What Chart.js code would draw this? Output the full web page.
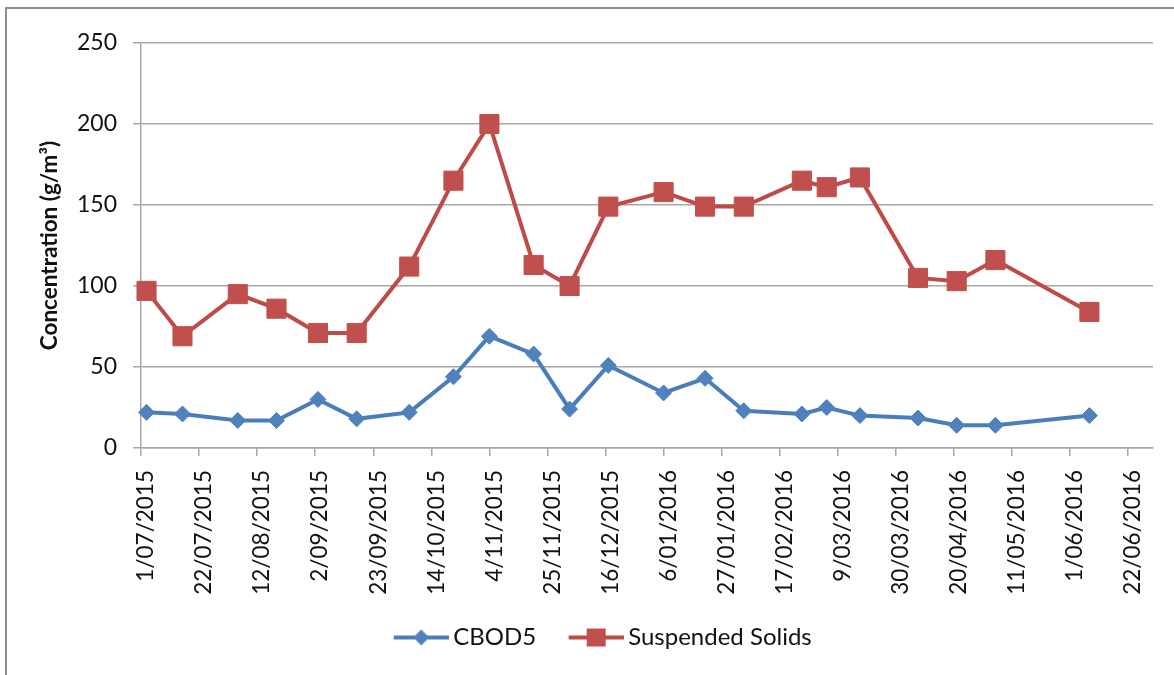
<!DOCTYPE html>
<html>
<head>
<meta charset="utf-8">
<title>CBOD5 and Suspended Solids</title>
<style>
  html, body { margin: 0; padding: 0; background: #fff; }
  #wrap { position: relative; width: 1174px; height: 675px; overflow: hidden; }
  #frame { position: absolute; left: 5px; top: 7px; width: 1200px; height: 700px;
           border-left: 2px solid #8e8e8e; border-top: 2px solid #8e8e8e; }
  #chart { position: absolute; left: 0; top: 0; }
</style>
</head>
<body>
<div id="wrap">
  <div id="frame"></div>
  <canvas id="chart" width="1174" height="675"></canvas>
</div>
<script src="https://cdn.jsdelivr.net/npm/chart.js@4.4.1/dist/chart.umd.min.js"></script>
<script>
const sampleDates = ['3/07/2015', '16/07/2015', '5/08/2015', '19/08/2015', '3/09/2015', '17/09/2015',
  '6/10/2015', '22/10/2015', '4/11/2015', '20/11/2015', '3/12/2015', '17/12/2015',
  '6/01/2016', '21/01/2016', '4/02/2016', '25/02/2016', '5/03/2016', '17/03/2016',
  '7/04/2016', '21/04/2016', '5/05/2016', '8/06/2016'];
const cbod5 = [22, 21, 17, 17, 30, 18, 22, 44, 69, 58, 24, 51, 34, 43, 23, 21, 25, 20, 18.5, 14, 14, 20];
const suspendedSolids = [97, 69, 95, 86, 71, 71, 112, 165, 200, 113, 100, 149, 158, 149, 149, 165, 161, 167, 105, 103, 116, 84];
const tickLabels = ['1/07/2015', '22/07/2015', '12/08/2015', '2/09/2015', '23/09/2015', '14/10/2015',
  '4/11/2015', '25/11/2015', '16/12/2015', '6/01/2016', '27/01/2016', '17/02/2016',
  '9/03/2016', '30/03/2016', '20/04/2016', '11/05/2016', '1/06/2016', '22/06/2016'];
const seriesNames = ['CBOD5', 'Suspended Solids'];

const blueLine = '#4a7ebb', blueMark = '#4f81bd';
const redLine = '#be4b48', redMark = '#c0504d';
const gridColor = '#a8a8a8';

// days since 1/07/2015
function toDay(s) {
  const [d, m, y] = s.split('/').map(Number);
  return Math.round((Date.UTC(y, m - 1, d) - Date.UTC(2015, 6, 1)) / 86400000);
}
const tickDays = tickLabels.map(toDay);

function points(values) {
  return values.map((v, i) => ({ x: toDay(sampleDates[i]), y: v }));
}

// legend icon: line with the marker in the middle (left part left blank for spacing)
function legendIcon(color, markColor, shape) {
  const c = document.createElement('canvas');
  c.width = 85; c.height = 24;
  const g = c.getContext('2d');
  g.strokeStyle = color; g.lineWidth = 4;
  g.beginPath(); g.moveTo(30, 12); g.lineTo(85, 12); g.stroke();
  g.fillStyle = markColor;
  const cx = 57.5, cy = 12;
  if (shape === 'diamond') {
    g.beginPath();
    g.moveTo(cx, cy - 8); g.lineTo(cx + 8, cy); g.lineTo(cx, cy + 8); g.lineTo(cx - 8, cy);
    g.closePath(); g.fill();
  } else {
    g.fillRect(cx - 9.5, cy - 9, 19, 18);
  }
  return c;
}
const legendIcons = [legendIcon(blueLine, blueMark, 'diamond'), legendIcon(redLine, redMark, 'square')];

new Chart('chart', {
  type: 'line',
  data: {
    datasets: [
      {
        label: seriesNames[0],
        data: points(cbod5),
        borderColor: blueLine,
        borderWidth: 4,
        pointStyle: 'rectRot',
        pointRadius: 8,
        pointBackgroundColor: blueMark,
        pointBorderColor: blueMark,
        pointBorderWidth: 1,
        clip: false
      },
      {
        label: seriesNames[1],
        data: points(suspendedSolids),
        borderColor: redLine,
        borderWidth: 4,
        pointStyle: 'rect',
        pointRadius: 13.5,
        pointBackgroundColor: redMark,
        pointBorderColor: redMark,
        pointBorderWidth: 1,
        clip: false
      }
    ]
  },
  options: {
    responsive: false,
    animation: false,
    layout: { padding: { left: 30, right: 21, top: 43, bottom: 15.5 } },
    plugins: {
      tooltip: { enabled: false },
      legend: {
        position: 'bottom',
        labels: {
          usePointStyle: true,
          pointStyleWidth: 70,
          padding: 10,
          color: '#111',
          font: { family: 'Lato', size: 24 },
          generateLabels(chart) {
            const items = Chart.defaults.plugins.legend.labels.generateLabels(chart);
            items.forEach((it, i) => { it.pointStyle = legendIcons[i]; });
            return items;
          }
        }
      }
    },
    scales: {
      x: {
        type: 'linear',
        min: 0,
        max: 366,
        afterBuildTicks(scale) { scale.ticks = tickDays.map(v => ({ value: v })); },
        afterFit(scale) { scale.height = 167.5; },
        grid: { drawOnChartArea: false, drawTicks: true, tickLength: 8, color: gridColor, lineWidth: 1.5 },
        border: { display: true, color: gridColor, width: 1.5 },
        ticks: {
          autoSkip: false,
          minRotation: 90,
          maxRotation: 90,
          padding: 14,
          labelOffset: 5,
          color: '#111',
          font: { family: 'Lato', size: 22.5 },
          callback: (v, i) => tickLabels[i]
        }
      },
      y: {
        min: 0,
        max: 250,
        afterFit(scale) { scale.width = 111; },
        grid: { color: gridColor, lineWidth: 1.5, tickLength: 8 },
        border: { display: true, color: gridColor, width: 1.5 },
        ticks: {
          stepSize: 50,
          padding: 16,
          color: '#111',
          font: { family: 'Lato', size: 23 }
        },
        title: {
          display: true,
          text: 'Concentration (g/m³)',
          color: '#111',
          font: { family: 'Lato', size: 22.5, weight: 'bold' },
          padding: { top: 6.5, bottom: 0 }
        }
      }
    }
  }
});
</script>
</body>
</html>
